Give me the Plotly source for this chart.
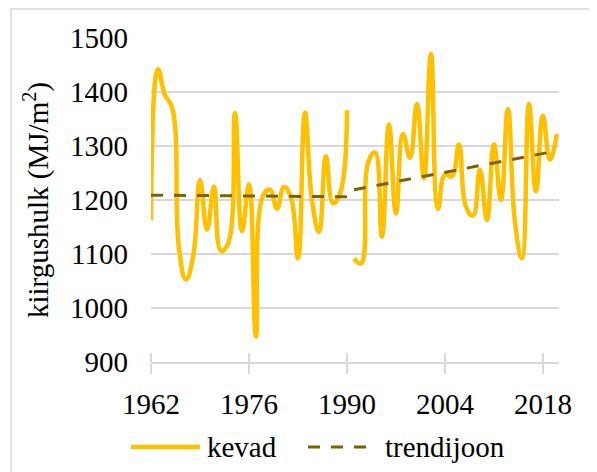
import plotly.graph_objects as go

# ---- data ----
years_a = list(range(1962, 1991))
kevad_a = [1162, 1442, 1394, 1372, 1110, 1053, 1094, 1237, 1145, 1225,
           1106, 1119, 1361, 1142, 1229, 947, 1208, 1219, 1184, 1224,
           1204, 1092, 1362, 1200, 1141, 1281, 1194, 1212, 1366]
years_b = list(range(1991, 2021))
kevad_b = [1092, 1083, 1268, 1288, 1132, 1340, 1175, 1322, 1278, 1378,
           1240, 1471, 1184, 1247, 1244, 1303, 1188, 1171, 1256, 1163,
           1303, 1200, 1368, 1160, 1092, 1378, 1216, 1356, 1275, 1322]
trend_a_years = [1962, 1990]
trend_a_vals = [1209, 1206]
trend_b_years = [1991, 2020]
trend_b_vals = [1219, 1291]
x_ticks = [1962, 1976, 1990, 2004, 2018]
y_ticks = [900, 1000, 1100, 1200, 1300, 1400, 1500]

KEVAD = "#FFC000"
TREND = "#7F6000"
GRID = "#D9D9D9"
FONT = "Liberation Serif, Times New Roman, serif"
FS = 29

# the page body adds an 8px margin; lay out in page pixels and compensate
OFF = 8
W, H = 597 - OFF, 472 - OFF
PL, PR, PT, PB = 151, 559, 38, 362          # plot area in page pixels
ML, MT = PL - OFF, PT - OFF
MR, MB = W - (PR - OFF), H - (PB - OFF)
PW, PH = PR - PL, PB - PT


def px_x(p):
    return (p - PL) / PW


def px_y(p):
    return (PB - p) / PH


fig = go.Figure()
line_k = dict(color=KEVAD, width=4.5, shape="spline", smoothing=1.3)
line_t = dict(color=TREND, width=3, dash="12px,11px")
fig.add_trace(go.Scatter(x=years_a, y=kevad_a, mode="lines", name="kevad",
                         line=line_k, showlegend=False))
fig.add_trace(go.Scatter(x=years_b, y=kevad_b, mode="lines", name="kevad",
                         line=line_k, showlegend=False))
fig.add_trace(go.Scatter(x=trend_a_years, y=trend_a_vals, mode="lines", name="trendijoon",
                         line=line_t, showlegend=False))
fig.add_trace(go.Scatter(x=trend_b_years, y=trend_b_vals, mode="lines", name="trendijoon",
                         line=line_t, showlegend=False))

xr = [1962, 2020.3]
fig.update_layout(
    width=W, height=H,
    margin=dict(l=ML, r=MR, t=MT, b=MB, autoexpand=False),
    paper_bgcolor="white", plot_bgcolor="white",
    font=dict(family=FONT, size=FS, color="black"),
    xaxis=dict(range=xr, tickvals=x_ticks, ticktext=[str(v) for v in x_ticks],
               showgrid=False, zeroline=False, showline=True, linecolor=GRID, linewidth=1.5,
               ticks="outside", ticklen=10, tickwidth=1.5, tickcolor=GRID,
               minor=dict(tickvals=x_ticks, ticks="inside", ticklen=9, tickwidth=1.5,
                          tickcolor=GRID, showgrid=False),
               ticklabelstandoff=5, tickfont=dict(family=FONT, size=FS, color="black")),
    yaxis=dict(range=[900, 1500], tickvals=y_ticks, showgrid=True, gridcolor=GRID, gridwidth=1.5,
               zeroline=False, showline=False, ticks="", ticklabelstandoff=22,
               tickfont=dict(family=FONT, size=FS, color="black"),
               title=dict(text="kiirgushulk (MJ/m<sup>2</sup>)",
                          font=dict(family=FONT, size=FS, color="black"), standoff=12)),
    showlegend=False,
)

# chart-area border (left and top edges visible)
fig.add_shape(type="rect", xref="paper", yref="paper",
              x0=px_x(11), x1=px_x(640), y0=px_y(520), y1=px_y(9),
              line=dict(color=GRID, width=1.5), fillcolor="rgba(0,0,0,0)", layer="below")

# legend
LY = px_y(447)
fig.add_shape(type="line", xref="paper", yref="paper", x0=px_x(131), x1=px_x(200), y0=LY, y1=LY,
              line=dict(color=KEVAD, width=4.5))
fig.add_shape(type="line", xref="paper", yref="paper", x0=px_x(308), x1=px_x(367), y0=LY, y1=LY,
              line=dict(color=TREND, width=3, dash="12px,11px"))
fig.add_annotation(text="kevad", xref="paper", yref="paper", x=px_x(205), y=LY,
                   xanchor="left", yanchor="middle", showarrow=False,
                   font=dict(family=FONT, size=FS, color="black"))
fig.add_annotation(text="trendijoon", xref="paper", yref="paper", x=px_x(383), y=LY,
                   xanchor="left", yanchor="middle", showarrow=False,
                   font=dict(family=FONT, size=FS, color="black"))

fig.write_html("out.html")
